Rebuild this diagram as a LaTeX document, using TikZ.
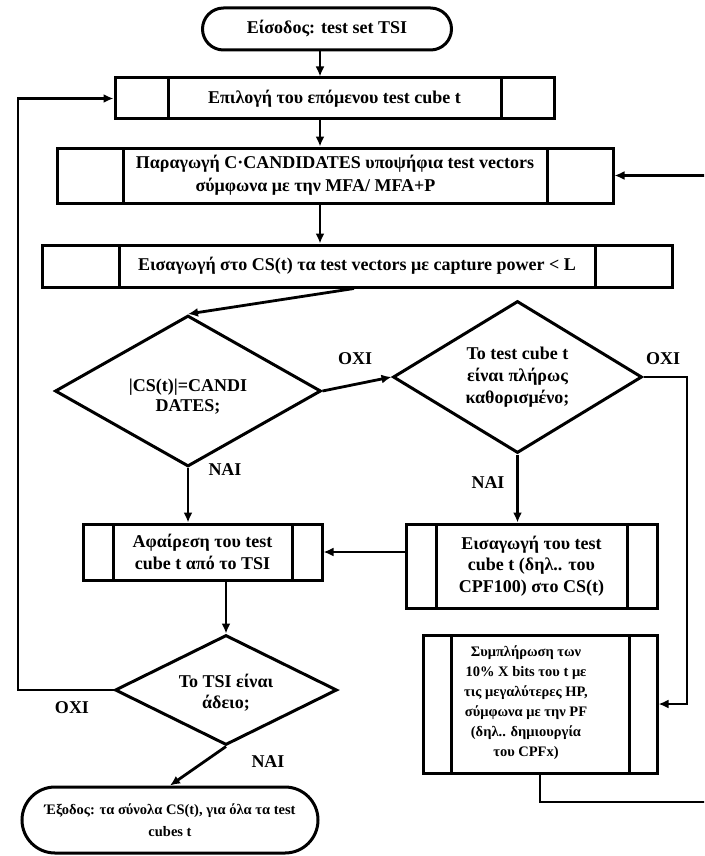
\documentclass[tikz,border=0pt]{standalone}
\usepackage{fontspec}
\setmainfont{Liberation Serif}
\usetikzlibrary{shapes.geometric,shapes.misc,arrows.meta}
\begin{document}
\begin{tikzpicture}[x=1pt,y=-1pt,
  every node/.style={font=\bfseries\fontsize{18}{21.5}\selectfont},
  pproc/.style={draw, line width=3pt, rectangle, inner sep=0pt, align=center,
    path picture={\draw[line width=3pt]
      ([xshift=#1]path picture bounding box.north west) -- ([xshift=#1]path picture bounding box.south west)
      ([xshift=-#1]path picture bounding box.north east) -- ([xshift=-#1]path picture bounding box.south east);}},
  dia/.style={draw, diamond, line width=3pt, inner sep=0pt, align=center},
  term/.style={draw, rounded rectangle, line width=3pt, inner sep=0pt, align=center},
  arr/.style={line width=2.8pt, -{Latex[length=10pt,width=9pt]}},
  lbl/.style={inner sep=0pt, align=center}
]
\useasboundingbox (0,0) rectangle (704,856);
\clip (0,0) rectangle (704,856);

\node[term, minimum width=249pt, minimum height=42pt] (start) at (327,29) {Είσοδος: test set TSI};
\node[pproc=53pt, minimum width=439pt, minimum height=41pt] (sel) at (334.5,98.5) {Επιλογή του επόμενου test cube t};
\node[pproc=66pt, minimum width=556pt, minimum height=55pt, font=\bfseries\fontsize{18}{23}\selectfont] (gen) at (335,175.5) {Παραγωγή C·CANDIDATES υποψήφια test vectors\\σύμφωνα με την MFA/ MFA+P\hspace*{39pt}};
\node[pproc=77pt, minimum width=630pt, minimum height=42pt] (ins) at (357,266) {Εισαγωγή στο CS(t) τα test vectors με capture power < L};

\node[dia, minimum width=266pt, minimum height=151pt] (d1) at (188,391) {};
\node[lbl, font=\bfseries\fontsize{18}{20}\selectfont] (d1t) at (188,397) {|CS(t)|=CANDI\\DATES;};
\node[dia, shape aspect=1.64, minimum width=249pt, minimum height=152pt, font=\bfseries\fontsize{18}{22}\selectfont] (d2) at (517.5,377) {Το test cube t\\είναι πλήρως\\καθορισμένο;};

\node[pproc=30pt, minimum width=239pt, minimum height=56pt] (rem) at (202.5,552) {Αφαίρεση του test\\cube t από το TSI};
\node[pproc=30pt, minimum width=251pt, minimum height=84pt] (ins2) at (531.5,566) {Εισαγωγή του test\\cube t (δηλ.. του\\CPF100) στο CS(t)};
\node[pproc=28pt, minimum width=234pt, minimum height=138pt] (fill) at (540,704) {};
\node[lbl, font=\bfseries\fontsize{14.5}{20}\selectfont] (fillt) at (526,703) {Συμπλήρωση των\\10\% X bits του t με\\τις μεγαλύτερες HP,\\σύμφωνα με την PF\\(δηλ.. δημιουργία\\του CPFx)};

\node[dia, minimum width=222pt, minimum height=110pt] (d3) at (226,690) {};
\node[lbl, font=\bfseries\fontsize{18}{21}\selectfont] (d3t) at (226,693) {Το TSI είναι\\άδειο;};
\node[term, minimum width=296pt, minimum height=66pt, font=\bfseries\fontsize{14.5}{22}\selectfont] (end) at (170,820) {Έξοδος: τα σύνολα CS(t), για όλα τα test\\cubes t};

\node[lbl] (o1) at (355,359) {ΟΧΙ};
\node[lbl] (o2) at (663,359) {ΟΧΙ};
\node[lbl] (n1) at (225,470) {ΝΑΙ};
\node[lbl] (n2) at (488,483) {ΝΑΙ};
\node[lbl] (o3) at (72,708) {ΟΧΙ};
\node[lbl] (n3) at (268,762) {ΝΑΙ};

\coordinate (cx) at (320,0);
\coordinate (insout) at (354,0);
\coordinate (rx) at (687,0);
\coordinate (lx) at (18,0);
\coordinate (by) at (0,802);
\coordinate (ex) at (712,0);

\draw[arr] (start.south -| cx) -- (sel.north -| cx);
\draw[arr] (sel.south -| cx) -- (gen.north -| cx);
\draw[arr] (gen.south -| cx) -- (ins.north -| cx);
\draw[arr] (ins.south -| insout) -- (d1.north);
\draw[arr] (d1.east) -- (d2.west);
\draw[arr] (d2.east) -- (d2.east -| rx) -- (rx |- fill.east) -- (fill.east);
\draw[arr] (d2.south) -- (d2.south |- ins2.north);
\draw[arr] (d1.south) -- (d1.south |- rem.north);
\draw[arr] (ins2.west |- rem.east) -- (rem.east);
\draw[arr] (rem.south -| d3.north) -- (d3.north);
\draw[arr] (d3.west) -- (d3.west -| lx) -- (lx |- sel.west) -- (sel.west);
\draw[arr] (d3.south) -- (end.north);
\draw[arr] (fill.south) -- (fill.south |- by) -- (ex |- by) -- (ex |- gen.east) -- (gen.east);
\end{tikzpicture}
\end{document}
